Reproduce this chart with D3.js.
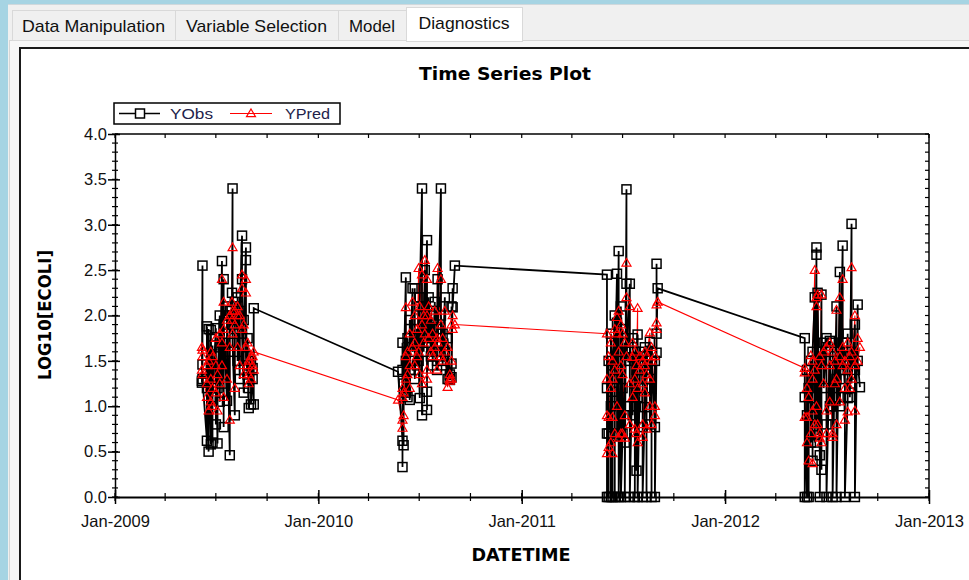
<!DOCTYPE html>
<html><head><meta charset="utf-8">
<script src="https://cdn.jsdelivr.net/npm/d3@7"></script>
<style>
html,body{margin:0;padding:0;background:#f0f0f0;overflow:hidden}
svg{display:block}
</style></head><body>
<svg id="c" width="969" height="580"></svg>
<script>
// ---------------- DATA ----------------
const tabs = ["Data Manipulation", "Variable Selection", "Model", "Diagnostics"];
const yearTicks = ["2009-01-01", "2010-01-01", "2011-01-01", "2012-01-01", "2013-01-01"];
const yTickValues = [0, 0.5, 1.0, 1.5, 2.0, 2.5, 3.0, 3.5, 4.0];
const seriesNames = ["YObs", "YPred"];

const days2009 = ["06-06","06-06","06-07","06-07","06-07","06-15","06-15","06-15","06-18","06-18","06-22","06-22","06-22","06-25","06-25","06-25","07-01","07-01","07-01","07-04","07-04","07-08","07-08","07-12","07-12","07-12","07-15","07-15","07-15","07-21","07-21","07-26","07-26","07-26","07-30","07-30","07-31","07-31","07-31","08-04","08-04","08-04","08-09","08-09","08-09","08-13","08-13","08-17","08-17","08-17","08-20","08-20","08-24","08-24","08-24","08-27","08-27","08-29","08-29","08-29","09-02","09-02","09-05","09-05","09-07","09-07"];
const obs2009  = [1.28,1.26,2.55,1.46,1.30,0.62,1.20,1.88,0.50,1.85,0.58,1.40,1.84,0.60,1.67,1.10,1.86,0.80,1.55,0.59,1.20,2.00,1.05,2.60,1.70,1.25,2.40,0.77,1.90,1.06,2.10,0.46,1.60,2.05,1.90,2.25,3.40,2.00,1.70,0.90,1.85,2.15,1.95,1.50,2.20,1.30,2.05,2.88,2.40,1.80,1.15,1.95,2.75,2.61,1.55,1.35,1.75,0.98,1.42,1.20,1.50,1.02,1.42,1.30,1.02,2.08];
const pred2009 = [1.65,1.40,1.62,1.55,1.35,1.10,1.25,1.45,0.95,1.50,1.05,1.30,1.60,1.00,1.55,1.20,1.75,1.15,1.45,0.95,1.35,1.80,1.25,2.40,1.70,1.45,2.15,1.10,1.85,1.30,1.95,0.85,1.65,2.00,1.95,2.15,2.75,2.05,1.80,1.20,1.90,2.05,2.00,1.65,2.10,1.45,2.00,2.45,2.30,1.85,1.35,1.90,2.40,2.25,1.65,1.45,1.70,1.25,1.50,1.35,1.55,1.30,1.55,1.45,1.40,1.60];

const days2010 = ["05-24","06-01","06-01","06-01","06-01","06-03","06-03","06-07","06-07","06-07","06-10","06-10","06-14","06-14","06-14","06-19","06-19","06-23","06-23","06-23","06-27","06-27","06-30","06-30","07-02","07-02","07-06","07-06","07-06","07-09","07-09","07-11","07-11","07-15","07-15","07-15","07-15","07-18","07-18","07-22","07-22","07-25","07-25","07-29","07-29","08-02","08-02","08-03","08-03","08-09","08-09","08-09","08-12","08-12","08-16","08-16","08-21","08-21","08-25","08-25","08-25","08-28","08-28","08-28","08-30","08-30","09-03"];
const obs2010  = [1.38,0.62,1.70,0.33,1.40,0.57,1.25,2.42,1.50,1.15,1.10,1.75,1.07,1.95,1.40,2.30,1.60,1.70,2.30,1.30,1.85,1.45,2.10,1.50,1.09,2.20,3.40,0.90,1.80,2.00,1.60,2.50,1.75,2.83,1.16,0.96,2.05,1.70,2.20,1.55,2.00,1.87,1.45,2.15,1.60,1.40,1.85,2.40,1.70,3.40,1.50,2.00,1.80,1.45,2.20,1.60,1.30,1.75,1.29,1.35,1.30,1.47,2.10,1.32,2.30,2.09,2.55];
const pred2010 = [1.07,0.85,1.20,0.76,1.10,0.90,1.15,2.09,1.55,1.30,1.35,1.60,1.20,1.80,1.45,2.15,1.65,1.70,2.00,1.45,1.85,1.55,2.52,1.60,1.35,2.10,2.45,1.25,1.90,2.00,1.70,2.61,1.80,2.40,1.40,1.30,2.00,1.75,2.10,1.60,1.95,1.80,1.55,2.05,1.65,1.40,1.75,2.52,1.70,2.40,1.55,1.90,1.75,1.50,2.05,1.60,1.21,1.65,1.30,1.35,1.28,1.50,1.90,1.30,2.00,1.85,1.90];

const days2011 = ["06-03","06-03","06-03","06-03","06-06","06-06","06-06","06-10","06-10","06-10","06-13","06-13","06-13","06-13","06-17","06-17","06-17","06-21","06-21","06-21","06-24","06-24","06-24","06-28","06-28","06-28","07-01","07-01","07-01","07-05","07-05","07-05","07-08","07-08","07-08","07-14","07-14","07-14","07-19","07-19","07-19","07-23","07-23","07-23","07-26","07-26","07-28","07-28","07-28","08-01","08-01","08-06","08-06","08-06","08-06","08-10","08-10","08-10","08-13","08-13","08-13","08-19","08-19","08-19","08-22","08-22","08-22","08-28","08-28","08-28","08-31","08-31","08-31","09-02"];
const obs2011  = [2.45,0.70,0.00,1.20,0.00,1.50,0.70,1.00,0.00,1.80,1.16,0.67,0.00,1.45,2.00,0.00,1.30,2.46,1.92,0.70,2.71,1.60,0.00,1.40,2.10,0.00,0.70,1.85,1.20,0.60,1.70,0.00,3.39,2.35,1.50,2.35,1.00,0.00,1.54,0.90,1.75,1.25,0.00,1.60,0.29,1.40,1.79,1.10,0.00,1.30,1.60,1.50,0.77,1.20,0.00,0.99,1.45,1.65,1.30,0.00,1.55,1.71,1.20,0.80,1.40,0.00,1.60,0.77,1.50,0.00,1.59,2.57,1.80,2.30];
const pred2011 = [1.80,0.90,0.48,1.30,0.55,1.55,0.88,1.20,0.60,1.70,1.30,0.88,0.48,1.50,1.85,0.70,1.40,1.98,1.80,1.00,2.05,1.60,0.65,1.45,1.90,0.70,0.70,1.80,1.35,0.90,1.70,0.65,2.58,2.20,1.55,2.10,1.25,0.80,1.54,1.10,1.70,1.30,0.75,1.60,0.70,1.45,2.08,1.20,0.60,1.40,1.55,1.50,0.66,1.25,0.80,1.15,1.45,1.60,1.35,0.75,1.55,1.81,1.30,1.00,1.50,0.80,1.65,1.00,1.55,0.90,1.92,2.12,1.85,2.15];

const days2012 = ["05-23","05-23","05-23","05-27","05-27","05-27","05-30","05-30","06-03","06-03","06-06","06-06","06-06","06-06","06-10","06-10","06-10","06-13","06-13","06-13","06-15","06-15","06-19","06-19","06-19","06-22","06-22","06-22","06-26","06-26","07-01","07-01","07-01","07-07","07-07","07-07","07-12","07-12","07-12","07-16","07-16","07-19","07-19","07-19","07-25","07-25","07-25","07-30","07-30","07-30","08-03","08-03","08-03","08-08","08-08","08-08","08-12","08-12","08-15","08-15","08-15","08-21","08-21","08-21","08-26","08-26","08-30"];
const obs2012  = [1.75,0.00,1.10,0.00,0.90,1.40,0.00,1.20,1.50,0.60,1.29,0.99,0.40,1.60,2.20,1.30,0.60,2.67,2.75,0.90,0.68,2.25,0.46,1.60,0.00,2.23,0.30,1.50,1.70,1.20,1.75,0.80,0.00,1.72,1.00,1.50,0.90,1.70,0.00,1.55,1.20,2.10,1.30,0.00,2.48,1.60,1.00,2.77,1.40,1.70,1.20,1.50,0.00,1.09,1.80,1.40,1.55,1.10,3.01,1.60,1.25,1.90,1.40,0.00,2.12,1.50,1.21];
const pred2012 = [1.42,0.88,1.37,0.60,0.88,1.20,0.40,1.10,1.56,0.70,1.30,0.95,0.37,1.50,2.50,1.40,0.80,2.20,2.10,1.00,0.80,2.23,0.70,1.55,0.65,2.23,0.60,1.45,1.60,1.25,1.65,0.95,0.70,1.70,1.05,1.45,0.66,1.60,0.70,1.50,1.25,2.06,1.30,0.80,2.20,1.55,1.05,2.40,1.45,1.65,1.20,1.50,0.85,0.94,1.70,1.40,1.55,1.20,2.53,1.60,1.30,2.00,1.45,0.95,1.75,1.50,1.65];

// -------------- BUILD ROWS --------------
const parse = d3.timeParse("%Y-%m-%d");
const seasons = [
  ["2009", days2009, obs2009, pred2009],
  ["2010", days2010, obs2010, pred2010],
  ["2011", days2011, obs2011, pred2011],
  ["2012", days2012, obs2012, pred2012]
];
const rows = [];
seasons.forEach(([yr, ds, ob, pr]) => {
  const n = Math.min(ds.length, ob.length, pr.length);
  for (let i = 0; i < n; i++) rows.push({date: parse(yr + "-" + ds[i]), obs: ob[i], pred: pr[i]});
});

// -------------- DRAW --------------
const svg = d3.select("#c");
const SANS = "'Liberation Sans', Arial, sans-serif";
const BOLD = "'DejaVu Sans', 'Liberation Sans', sans-serif";

// window chrome
svg.append("rect").attr("width", 969).attr("height", 580).attr("fill", "#f0f0f0");
svg.append("rect").attr("x", 0).attr("y", 0).attr("width", 969).attr("height", 4).attr("fill", "#a6d4e3");
svg.append("rect").attr("x", 0).attr("y", 0).attr("width", 8).attr("height", 580).attr("fill", "#a6d4e3");
svg.append("line").attr("x1", 8).attr("x2", 969).attr("y1", 4.5).attr("y2", 4.5).attr("stroke", "#cfd8dc");

// tab panel
svg.append("rect").attr("x", 9.5).attr("y", 40.5).attr("width", 970).attr("height", 560)
  .attr("fill", "#f7f7f7").attr("stroke", "#d6d6d6");

const tabX = [12, 175, 338, 406, 522];
const tabTextW = [143, 141, 46, 91];
tabs.forEach((t, i) => {
  const sel = i === 3;
  const x0 = tabX[i], x1 = tabX[i + 1];
  svg.append("rect")
    .attr("x", x0 + 0.5).attr("y", sel ? 7.5 : 10.5)
    .attr("width", x1 - x0).attr("height", sel ? 34 : 30)
    .attr("fill", sel ? "#ffffff" : "#f0f0f0").attr("stroke", "#d9d9d9");
  svg.append("text")
    .attr("x", (x0 + x1) / 2).attr("y", sel ? 29 : 32)
    .attr("text-anchor", "middle")
    .attr("font-family", SANS).attr("font-size", 17)
    .attr("textLength", tabTextW[i]).attr("lengthAdjust", "spacingAndGlyphs")
    .attr("fill", "#111").text(t);
});
svg.append("line").attr("x1", 407).attr("x2", 522).attr("y1", 40.5).attr("y2", 40.5).attr("stroke", "#ffffff");

// chart frame
svg.append("rect").attr("x", 20).attr("y", 48).attr("width", 1000).attr("height", 600)
  .attr("fill", "#ffffff").attr("stroke", "#1a1a1a").attr("stroke-width", 2);

// scales
const x = d3.scaleTime().domain([parse(yearTicks[0]), parse(yearTicks[yearTicks.length - 1])]).range([115, 929]);
const y = d3.scaleLinear().domain([0, 4]).range([497, 134]);

// title & axis titles
svg.append("text").attr("x", 505).attr("y", 80).attr("text-anchor", "middle")
  .attr("font-family", BOLD).attr("font-weight", "bold").attr("font-size", 18)
  .attr("textLength", 172).attr("lengthAdjust", "spacingAndGlyphs").text("Time Series Plot");
svg.append("text").attr("x", 521).attr("y", 561).attr("text-anchor", "middle")
  .attr("font-family", BOLD).attr("font-weight", "bold").attr("font-size", 17)
  .attr("textLength", 99).attr("lengthAdjust", "spacingAndGlyphs").text("DATETIME");
svg.append("text").attr("transform", "translate(51,315) rotate(-90)").attr("text-anchor", "middle")
  .attr("font-family", BOLD).attr("font-weight", "bold").attr("font-size", 17)
  .attr("textLength", 130).attr("lengthAdjust", "spacingAndGlyphs").text("LOG10[ECOLI]");

// frame top/right
const plot = svg.append("g");
plot.append("line").attr("x1", 115).attr("x2", 929).attr("y1", y(4)).attr("y2", y(4)).attr("stroke", "#000").attr("stroke-width", 1.5);
plot.append("line").attr("x1", 929).attr("x2", 929).attr("y1", y(4)).attr("y2", y(0)).attr("stroke", "#000").attr("stroke-width", 1.5);

// minor ticks
const quarterTicks = x.ticks(d3.timeMonth.every(3));
const minorY = y.ticks(40);
plot.selectAll(".mxb").data(quarterTicks).join("line")
  .attr("x1", d => x(d)).attr("x2", d => x(d)).attr("y1", y(0) - 4).attr("y2", y(0) + 4)
  .attr("stroke", "#000").attr("stroke-width", 1.2);
plot.selectAll(".mxt").data(quarterTicks).join("line")
  .attr("x1", d => x(d)).attr("x2", d => x(d)).attr("y1", y(4)).attr("y2", y(4) + 4)
  .attr("stroke", "#000").attr("stroke-width", 1.2);
plot.selectAll(".myl").data(minorY).join("line")
  .attr("x1", 112).attr("x2", 118).attr("y1", d => y(d)).attr("y2", d => y(d))
  .attr("stroke", "#000").attr("stroke-width", 1.2);
plot.selectAll(".myr").data(minorY).join("line")
  .attr("x1", 925).attr("x2", 929).attr("y1", d => y(d)).attr("y2", d => y(d))
  .attr("stroke", "#000").attr("stroke-width", 1.2);

// bottom axis
const gx = svg.append("g").attr("transform", `translate(0,${y(0)})`)
  .call(d3.axisBottom(x).tickValues(yearTicks.map(parse)).tickFormat(d3.timeFormat("%b-%Y"))
    .tickSizeInner(7).tickSizeOuter(0));
gx.select(".domain").attr("stroke", "#000").attr("stroke-width", 2);
gx.selectAll(".tick line").attr("y1", -7).attr("stroke", "#000").attr("stroke-width", 1.5);
gx.selectAll(".tick text").attr("y", 18).attr("dy", "0.72em")
  .attr("font-family", SANS).attr("font-size", 16.5).attr("fill", "#111");

// left axis
const gy = svg.append("g").attr("transform", "translate(115,0)")
  .call(d3.axisLeft(y).tickValues(yTickValues).tickFormat(d3.format(".1f")).tickSizeInner(7).tickSizeOuter(0));
gy.select(".domain").attr("stroke", "#000").attr("stroke-width", 1.5);
gy.selectAll(".tick line").attr("x1", 5).attr("stroke", "#000").attr("stroke-width", 1.5);
gy.selectAll(".tick text").attr("x", -8).attr("font-family", SANS).attr("font-size", 16.5).attr("fill", "#111");

// series
const lineObs = d3.line().x(d => x(d.date)).y(d => y(d.obs));
const linePred = d3.line().x(d => x(d.date)).y(d => y(d.pred));
const tri = "M0,-4.5L4.5,3.2L-4.5,3.2Z";

svg.append("path").datum(rows).attr("d", linePred).attr("fill", "none").attr("stroke", "#ff0000").attr("stroke-width", 1.1);
svg.append("path").datum(rows).attr("d", lineObs).attr("fill", "none").attr("stroke", "#000").attr("stroke-width", 1.8);
svg.selectAll(".sq").data(rows).join("rect")
  .attr("x", d => x(d.date) - 4.5).attr("y", d => y(d.obs) - 4.5)
  .attr("width", 9).attr("height", 9)
  .attr("fill", "none").attr("stroke", "#000").attr("stroke-width", 1.5);
svg.selectAll(".tr").data(rows).join("path")
  .attr("d", tri).attr("transform", d => `translate(${x(d.date)},${y(d.pred)})`)
  .attr("fill", "none").attr("stroke", "#ff0000").attr("stroke-width", 1.2);

// legend
const lg = svg.append("g");
lg.append("rect").attr("x", 114).attr("y", 103).attr("width", 226).attr("height", 21)
  .attr("fill", "#fff").attr("stroke", "#000").attr("stroke-width", 1.5);
lg.append("line").attr("x1", 119).attr("x2", 160).attr("y1", 113.5).attr("y2", 113.5).attr("stroke", "#000").attr("stroke-width", 1.4);
lg.append("rect").attr("x", 135.5).attr("y", 109).attr("width", 9).attr("height", 9).attr("fill", "#fff").attr("stroke", "#000").attr("stroke-width", 1.5);
lg.append("text").attr("x", 170).attr("y", 119).attr("font-family", SANS).attr("font-size", 14)
  .attr("textLength", 43).attr("lengthAdjust", "spacingAndGlyphs").attr("fill", "#22224a").text(seriesNames[0]);
lg.append("line").attr("x1", 230).attr("x2", 272).attr("y1", 113.5).attr("y2", 113.5).attr("stroke", "#ff0000").attr("stroke-width", 1.1);
lg.append("path").attr("d", tri).attr("transform", "translate(251,113.5)").attr("fill", "none").attr("stroke", "#ff0000").attr("stroke-width", 1.2);
lg.append("text").attr("x", 285).attr("y", 119).attr("font-family", SANS).attr("font-size", 14)
  .attr("textLength", 45).attr("lengthAdjust", "spacingAndGlyphs").attr("fill", "#22224a").text(seriesNames[1]);
</script>
</body></html>
